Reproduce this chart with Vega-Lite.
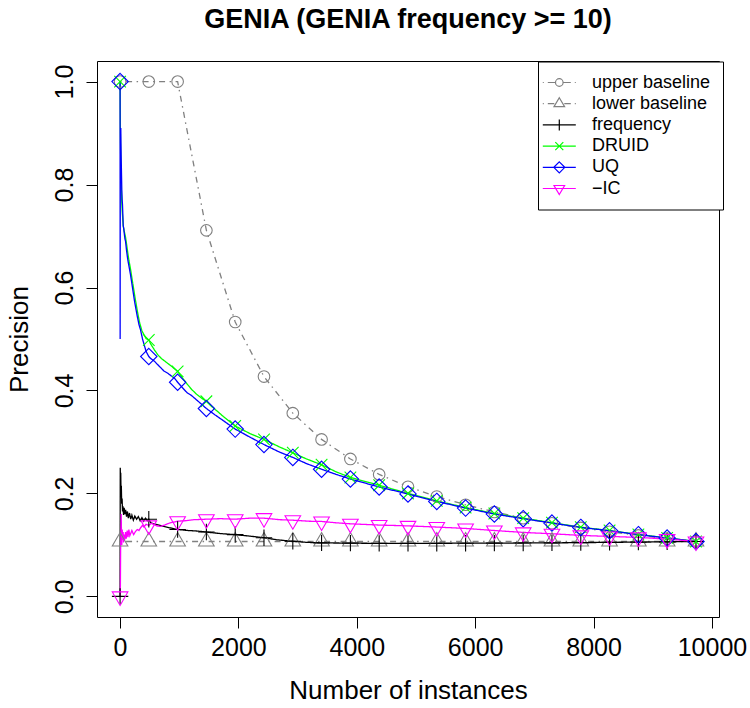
{
  "$schema": "https://vega.github.io/schema/vega-lite/v6.json",
  "width": 622,
  "height": 556,
  "autosize": {"type": "none"},
  "padding": {"left": 97, "top": 61, "right": 31, "bottom": 91},
  "background": "white",
  "title": {"text": "GENIA (GENIA frequency >= 10)", "fontSize": 27, "fontWeight": "bold", "font": "Liberation Sans", "color": "black", "anchor": "middle", "baseline": "alphabetic", "offset": 6},
  "data": {"values": [
    {"s":"upper baseline","n":1,"p":1,"m":1},{"s":"upper baseline","n":486,"p":1,"m":1},{"s":"upper baseline","n":973,"p":1,"m":1},{"s":"upper baseline","n":1459,"p":0.711,"m":1},{"s":"upper baseline","n":1946,"p":0.533,"m":1},{"s":"upper baseline","n":2432,"p":0.427,"m":1},{"s":"upper baseline","n":2919,"p":0.356,"m":1},{"s":"upper baseline","n":3405,"p":0.305,"m":1},{"s":"upper baseline","n":3892,"p":0.267,"m":1},{"s":"upper baseline","n":4378,"p":0.237,"m":1},{"s":"upper baseline","n":4865,"p":0.213,"m":1},{"s":"upper baseline","n":5351,"p":0.194,"m":1},{"s":"upper baseline","n":5838,"p":0.178,"m":1},{"s":"upper baseline","n":6324,"p":0.164,"m":1},{"s":"upper baseline","n":6811,"p":0.152,"m":1},{"s":"upper baseline","n":7297,"p":0.142,"m":1},{"s":"upper baseline","n":7784,"p":0.133,"m":1},{"s":"upper baseline","n":8270,"p":0.1255,"m":1},{"s":"upper baseline","n":8757,"p":0.1185,"m":1},{"s":"upper baseline","n":9243,"p":0.1123,"m":1},{"s":"upper baseline","n":9730,"p":0.1067,"m":1},
    {"s":"lower baseline","n":1,"p":0.1067,"m":1},{"s":"lower baseline","n":486,"p":0.1067,"m":1},{"s":"lower baseline","n":973,"p":0.1067,"m":1},{"s":"lower baseline","n":1459,"p":0.1067,"m":1},{"s":"lower baseline","n":1946,"p":0.1067,"m":1},{"s":"lower baseline","n":2432,"p":0.1067,"m":1},{"s":"lower baseline","n":2919,"p":0.1067,"m":1},{"s":"lower baseline","n":3405,"p":0.1067,"m":1},{"s":"lower baseline","n":3892,"p":0.1067,"m":1},{"s":"lower baseline","n":4378,"p":0.1067,"m":1},{"s":"lower baseline","n":4865,"p":0.1067,"m":1},{"s":"lower baseline","n":5351,"p":0.1067,"m":1},{"s":"lower baseline","n":5838,"p":0.1067,"m":1},{"s":"lower baseline","n":6324,"p":0.1067,"m":1},{"s":"lower baseline","n":6811,"p":0.1067,"m":1},{"s":"lower baseline","n":7297,"p":0.1067,"m":1},{"s":"lower baseline","n":7784,"p":0.1067,"m":1},{"s":"lower baseline","n":8270,"p":0.1067,"m":1},{"s":"lower baseline","n":8757,"p":0.1067,"m":1},{"s":"lower baseline","n":9243,"p":0.1067,"m":1},{"s":"lower baseline","n":9730,"p":0.1067,"m":1},
    {"s":"frequency","n":1,"p":0,"m":1},{"s":"frequency","n":4,"p":0.25,"m":0},{"s":"frequency","n":8,"p":0.22,"m":0},{"s":"frequency","n":12,"p":0.24,"m":0},{"s":"frequency","n":17,"p":0.2,"m":0},{"s":"frequency","n":22,"p":0.215,"m":0},{"s":"frequency","n":28,"p":0.18,"m":0},{"s":"frequency","n":35,"p":0.19,"m":0},{"s":"frequency","n":42,"p":0.165,"m":0},{"s":"frequency","n":50,"p":0.175,"m":0},{"s":"frequency","n":60,"p":0.158,"m":0},{"s":"frequency","n":70,"p":0.172,"m":0},{"s":"frequency","n":82,"p":0.16,"m":0},{"s":"frequency","n":95,"p":0.168,"m":0},{"s":"frequency","n":110,"p":0.155,"m":0},{"s":"frequency","n":125,"p":0.165,"m":0},{"s":"frequency","n":140,"p":0.152,"m":0},{"s":"frequency","n":160,"p":0.162,"m":0},{"s":"frequency","n":180,"p":0.15,"m":0},{"s":"frequency","n":200,"p":0.158,"m":0},{"s":"frequency","n":225,"p":0.148,"m":0},{"s":"frequency","n":250,"p":0.156,"m":0},{"s":"frequency","n":280,"p":0.15,"m":0},{"s":"frequency","n":310,"p":0.155,"m":0},{"s":"frequency","n":340,"p":0.147,"m":0},{"s":"frequency","n":370,"p":0.153,"m":0},{"s":"frequency","n":400,"p":0.146,"m":0},{"s":"frequency","n":430,"p":0.152,"m":0},{"s":"frequency","n":460,"p":0.147,"m":0},{"s":"frequency","n":486,"p":0.15,"m":1},{"s":"frequency","n":520,"p":0.143,"m":0},{"s":"frequency","n":600,"p":0.14,"m":0},{"s":"frequency","n":700,"p":0.137,"m":0},{"s":"frequency","n":850,"p":0.133,"m":0},{"s":"frequency","n":973,"p":0.13,"m":1},{"s":"frequency","n":1150,"p":0.128,"m":0},{"s":"frequency","n":1300,"p":0.127,"m":0},{"s":"frequency","n":1459,"p":0.125,"m":1},{"s":"frequency","n":1700,"p":0.122,"m":0},{"s":"frequency","n":1946,"p":0.12,"m":1},{"s":"frequency","n":2200,"p":0.117,"m":0},{"s":"frequency","n":2432,"p":0.114,"m":1},{"s":"frequency","n":2650,"p":0.11,"m":0},{"s":"frequency","n":2919,"p":0.107,"m":1},{"s":"frequency","n":3150,"p":0.105,"m":0},{"s":"frequency","n":3405,"p":0.104,"m":1},{"s":"frequency","n":3892,"p":0.1035,"m":1},{"s":"frequency","n":4378,"p":0.103,"m":1},{"s":"frequency","n":4865,"p":0.103,"m":1},{"s":"frequency","n":5351,"p":0.1032,"m":1},{"s":"frequency","n":5838,"p":0.1034,"m":1},{"s":"frequency","n":6324,"p":0.1035,"m":1},{"s":"frequency","n":6811,"p":0.1038,"m":1},{"s":"frequency","n":7297,"p":0.104,"m":1},{"s":"frequency","n":7784,"p":0.1045,"m":1},{"s":"frequency","n":8270,"p":0.105,"m":1},{"s":"frequency","n":8757,"p":0.1055,"m":1},{"s":"frequency","n":9243,"p":0.106,"m":1},{"s":"frequency","n":9730,"p":0.1067,"m":1},
    {"s":"DRUID","n":1,"p":1,"m":1},{"s":"DRUID","n":3,"p":0.95,"m":0},{"s":"DRUID","n":6,"p":0.9,"m":0},{"s":"DRUID","n":10,"p":0.86,"m":0},{"s":"DRUID","n":15,"p":0.83,"m":0},{"s":"DRUID","n":20,"p":0.8,"m":0},{"s":"DRUID","n":28,"p":0.77,"m":0},{"s":"DRUID","n":36,"p":0.75,"m":0},{"s":"DRUID","n":45,"p":0.735,"m":0},{"s":"DRUID","n":54,"p":0.72,"m":0},{"s":"DRUID","n":70,"p":0.71,"m":0},{"s":"DRUID","n":93,"p":0.698,"m":0},{"s":"DRUID","n":110,"p":0.685,"m":0},{"s":"DRUID","n":130,"p":0.668,"m":0},{"s":"DRUID","n":150,"p":0.653,"m":0},{"s":"DRUID","n":177,"p":0.636,"m":0},{"s":"DRUID","n":210,"p":0.612,"m":0},{"s":"DRUID","n":250,"p":0.583,"m":0},{"s":"DRUID","n":290,"p":0.556,"m":0},{"s":"DRUID","n":330,"p":0.532,"m":0},{"s":"DRUID","n":370,"p":0.516,"m":0},{"s":"DRUID","n":410,"p":0.507,"m":0},{"s":"DRUID","n":440,"p":0.501,"m":0},{"s":"DRUID","n":486,"p":0.498,"m":1},{"s":"DRUID","n":520,"p":0.49,"m":0},{"s":"DRUID","n":580,"p":0.479,"m":0},{"s":"DRUID","n":640,"p":0.469,"m":0},{"s":"DRUID","n":700,"p":0.462,"m":0},{"s":"DRUID","n":780,"p":0.455,"m":0},{"s":"DRUID","n":870,"p":0.447,"m":0},{"s":"DRUID","n":973,"p":0.437,"m":1},{"s":"DRUID","n":1050,"p":0.425,"m":0},{"s":"DRUID","n":1130,"p":0.413,"m":0},{"s":"DRUID","n":1210,"p":0.402,"m":0},{"s":"DRUID","n":1300,"p":0.392,"m":0},{"s":"DRUID","n":1380,"p":0.385,"m":0},{"s":"DRUID","n":1459,"p":0.379,"m":1},{"s":"DRUID","n":1600,"p":0.364,"m":0},{"s":"DRUID","n":1750,"p":0.349,"m":0},{"s":"DRUID","n":1946,"p":0.331,"m":1},{"s":"DRUID","n":2200,"p":0.316,"m":0},{"s":"DRUID","n":2432,"p":0.305,"m":1},{"s":"DRUID","n":2700,"p":0.29,"m":0},{"s":"DRUID","n":2919,"p":0.279,"m":1},{"s":"DRUID","n":3150,"p":0.267,"m":0},{"s":"DRUID","n":3405,"p":0.2557,"m":1},{"s":"DRUID","n":3650,"p":0.242,"m":0},{"s":"DRUID","n":3892,"p":0.231,"m":1},{"s":"DRUID","n":4378,"p":0.216,"m":1},{"s":"DRUID","n":4865,"p":0.2,"m":1},{"s":"DRUID","n":5351,"p":0.1855,"m":1},{"s":"DRUID","n":5838,"p":0.1726,"m":1},{"s":"DRUID","n":6324,"p":0.161,"m":1},{"s":"DRUID","n":6811,"p":0.152,"m":1},{"s":"DRUID","n":7297,"p":0.1432,"m":1},{"s":"DRUID","n":7784,"p":0.1345,"m":1},{"s":"DRUID","n":8270,"p":0.128,"m":1},{"s":"DRUID","n":8757,"p":0.1203,"m":1},{"s":"DRUID","n":9243,"p":0.1136,"m":1},{"s":"DRUID","n":9730,"p":0.1067,"m":1},
    {"s":"UQ","n":1,"p":1,"m":1},{"s":"UQ","n":2,"p":0.5,"m":0},{"s":"UQ","n":3,"p":0.667,"m":0},{"s":"UQ","n":4,"p":0.75,"m":0},{"s":"UQ","n":5,"p":0.8,"m":0},{"s":"UQ","n":6,"p":0.833,"m":0},{"s":"UQ","n":8,"p":0.875,"m":0},{"s":"UQ","n":10,"p":0.9,"m":0},{"s":"UQ","n":13,"p":0.91,"m":0},{"s":"UQ","n":16,"p":0.88,"m":0},{"s":"UQ","n":20,"p":0.85,"m":0},{"s":"UQ","n":25,"p":0.82,"m":0},{"s":"UQ","n":30,"p":0.79,"m":0},{"s":"UQ","n":36,"p":0.77,"m":0},{"s":"UQ","n":42,"p":0.76,"m":0},{"s":"UQ","n":48,"p":0.74,"m":0},{"s":"UQ","n":54,"p":0.72,"m":0},{"s":"UQ","n":62,"p":0.715,"m":0},{"s":"UQ","n":72,"p":0.705,"m":0},{"s":"UQ","n":82,"p":0.695,"m":0},{"s":"UQ","n":93,"p":0.69,"m":0},{"s":"UQ","n":110,"p":0.672,"m":0},{"s":"UQ","n":130,"p":0.655,"m":0},{"s":"UQ","n":150,"p":0.642,"m":0},{"s":"UQ","n":177,"p":0.625,"m":0},{"s":"UQ","n":210,"p":0.6,"m":0},{"s":"UQ","n":250,"p":0.57,"m":0},{"s":"UQ","n":290,"p":0.545,"m":0},{"s":"UQ","n":320,"p":0.528,"m":0},{"s":"UQ","n":346,"p":0.518,"m":0},{"s":"UQ","n":380,"p":0.5,"m":0},{"s":"UQ","n":410,"p":0.488,"m":0},{"s":"UQ","n":440,"p":0.476,"m":0},{"s":"UQ","n":486,"p":0.466,"m":1},{"s":"UQ","n":520,"p":0.462,"m":0},{"s":"UQ","n":580,"p":0.457,"m":0},{"s":"UQ","n":620,"p":0.452,"m":0},{"s":"UQ","n":690,"p":0.444,"m":0},{"s":"UQ","n":740,"p":0.438,"m":0},{"s":"UQ","n":800,"p":0.434,"m":0},{"s":"UQ","n":870,"p":0.428,"m":0},{"s":"UQ","n":920,"p":0.424,"m":0},{"s":"UQ","n":973,"p":0.416,"m":1},{"s":"UQ","n":1050,"p":0.406,"m":0},{"s":"UQ","n":1130,"p":0.396,"m":0},{"s":"UQ","n":1210,"p":0.39,"m":0},{"s":"UQ","n":1300,"p":0.381,"m":0},{"s":"UQ","n":1380,"p":0.373,"m":0},{"s":"UQ","n":1459,"p":0.365,"m":1},{"s":"UQ","n":1600,"p":0.353,"m":0},{"s":"UQ","n":1750,"p":0.341,"m":0},{"s":"UQ","n":1946,"p":0.325,"m":1},{"s":"UQ","n":2200,"p":0.309,"m":0},{"s":"UQ","n":2432,"p":0.295,"m":1},{"s":"UQ","n":2700,"p":0.28,"m":0},{"s":"UQ","n":2919,"p":0.27,"m":1},{"s":"UQ","n":3150,"p":0.258,"m":0},{"s":"UQ","n":3405,"p":0.247,"m":1},{"s":"UQ","n":3650,"p":0.237,"m":0},{"s":"UQ","n":3892,"p":0.228,"m":1},{"s":"UQ","n":4378,"p":0.2125,"m":1},{"s":"UQ","n":4865,"p":0.199,"m":1},{"s":"UQ","n":5351,"p":0.1845,"m":1},{"s":"UQ","n":5838,"p":0.1716,"m":1},{"s":"UQ","n":6324,"p":0.16,"m":1},{"s":"UQ","n":6811,"p":0.151,"m":1},{"s":"UQ","n":7297,"p":0.1425,"m":1},{"s":"UQ","n":7784,"p":0.134,"m":1},{"s":"UQ","n":8270,"p":0.1276,"m":1},{"s":"UQ","n":8757,"p":0.12,"m":1},{"s":"UQ","n":9243,"p":0.1134,"m":1},{"s":"UQ","n":9730,"p":0.1067,"m":1},
    {"s":"−IC","n":1,"p":0,"m":1},{"s":"−IC","n":5,"p":0,"m":0},{"s":"−IC","n":10,"p":0.09,"m":0},{"s":"−IC","n":15,"p":0.13,"m":0},{"s":"−IC","n":20,"p":0.16,"m":0},{"s":"−IC","n":25,"p":0.12,"m":0},{"s":"−IC","n":30,"p":0.1,"m":0},{"s":"−IC","n":37,"p":0.13,"m":0},{"s":"−IC","n":45,"p":0.11,"m":0},{"s":"−IC","n":52,"p":0.125,"m":0},{"s":"−IC","n":60,"p":0.105,"m":0},{"s":"−IC","n":70,"p":0.12,"m":0},{"s":"−IC","n":80,"p":0.11,"m":0},{"s":"−IC","n":93,"p":0.125,"m":0},{"s":"−IC","n":105,"p":0.112,"m":0},{"s":"−IC","n":121,"p":0.128,"m":0},{"s":"−IC","n":135,"p":0.115,"m":0},{"s":"−IC","n":149,"p":0.13,"m":0},{"s":"−IC","n":165,"p":0.118,"m":0},{"s":"−IC","n":180,"p":0.122,"m":0},{"s":"−IC","n":200,"p":0.128,"m":0},{"s":"−IC","n":230,"p":0.12,"m":0},{"s":"−IC","n":260,"p":0.126,"m":0},{"s":"−IC","n":290,"p":0.13,"m":0},{"s":"−IC","n":320,"p":0.128,"m":0},{"s":"−IC","n":346,"p":0.133,"m":0},{"s":"−IC","n":380,"p":0.138,"m":0},{"s":"−IC","n":402,"p":0.135,"m":0},{"s":"−IC","n":440,"p":0.14,"m":0},{"s":"−IC","n":486,"p":0.138,"m":1},{"s":"−IC","n":530,"p":0.142,"m":0},{"s":"−IC","n":570,"p":0.14,"m":0},{"s":"−IC","n":620,"p":0.137,"m":0},{"s":"−IC","n":683,"p":0.136,"m":0},{"s":"−IC","n":760,"p":0.139,"m":0},{"s":"−IC","n":850,"p":0.143,"m":0},{"s":"−IC","n":973,"p":0.146,"m":1},{"s":"−IC","n":1100,"p":0.147,"m":0},{"s":"−IC","n":1250,"p":0.149,"m":0},{"s":"−IC","n":1459,"p":0.15,"m":1},{"s":"−IC","n":1700,"p":0.151,"m":0},{"s":"−IC","n":1946,"p":0.15,"m":1},{"s":"−IC","n":2200,"p":0.152,"m":0},{"s":"−IC","n":2432,"p":0.152,"m":1},{"s":"−IC","n":2700,"p":0.149,"m":0},{"s":"−IC","n":2919,"p":0.148,"m":1},{"s":"−IC","n":3200,"p":0.146,"m":0},{"s":"−IC","n":3405,"p":0.1456,"m":1},{"s":"−IC","n":3650,"p":0.143,"m":0},{"s":"−IC","n":3892,"p":0.141,"m":1},{"s":"−IC","n":4378,"p":0.1386,"m":1},{"s":"−IC","n":4865,"p":0.137,"m":1},{"s":"−IC","n":5351,"p":0.1347,"m":1},{"s":"−IC","n":5838,"p":0.132,"m":1},{"s":"−IC","n":6324,"p":0.128,"m":1},{"s":"−IC","n":6811,"p":0.1243,"m":1},{"s":"−IC","n":7297,"p":0.1217,"m":1},{"s":"−IC","n":7784,"p":0.1185,"m":1},{"s":"−IC","n":8270,"p":0.1165,"m":1},{"s":"−IC","n":8757,"p":0.1146,"m":1},{"s":"−IC","n":9243,"p":0.1114,"m":1},{"s":"−IC","n":9730,"p":0.1067,"m":1}
  ]},
  "encoding": {
    "x": {"field": "n", "type": "quantitative", "title": "Number of instances",
      "scale": {"domain": [-389, 10119], "nice": false, "zero": false},
      "axis": {"values": [0, 2000, 4000, 6000, 8000, 10000], "format": "d", "labelPadding": 7, "labelOverlap": false, "labelFlush": false, "titleY": 81, "titleBaseline": "alphabetic"}},
    "y": {"field": "p", "type": "quantitative", "title": "Precision",
      "scale": {"domain": [-0.04, 1.04], "nice": false, "zero": false},
      "axis": {"values": [0, 0.2, 0.4, 0.6, 0.8, 1], "format": ".1f", "labelAngle": 270, "labelAlign": "center", "labelBaseline": "alphabetic", "labelPadding": 14, "labelOverlap": false, "labelFlush": false, "titleAngle": 270, "titleX": -69.5, "titleY": 278, "titleAlign": "center", "titleBaseline": "alphabetic"}},
    "color": {"field": "s", "type": "nominal",
      "scale": {"domain": ["upper baseline", "lower baseline", "frequency", "DRUID", "UQ", "−IC"], "range": ["#808080", "#808080", "#000000", "#00ff00", "#0000ff", "#ff00ff"]},
      "legend": {"title": null, "orient": "none", "legendX": 441, "legendY": 0.5}
    }
  },
  "layer": [
    {
      "mark": {"type": "line", "strokeWidth": 1.3, "opacity": 1},
      "encoding": {
        "strokeDash": {"field": "s", "type": "nominal", "legend": null,
          "scale": {"domain": ["frequency", "DRUID", "UQ", "−IC", "upper baseline", "lower baseline"], "range": [[1, 0], [1, 0], [1, 0], [1, 0], [1.5, 4.5, 6, 4.5], [1.5, 4.5, 6, 4.5]]}}
      }
    },
    {
      "transform": [{"filter": "datum.m == 1"}],
      "mark": {"type": "point", "filled": false, "size": 4, "strokeWidth": 1.1, "opacity": 1},
      "encoding": {
        "shape": {
          "condition": [
            {"test": "datum.s === 'upper baseline'", "value": "M5.8,0A5.8,5.8 0 1,1 -5.8,0A5.8,5.8 0 1,1 5.8,0Z"},
            {"test": "datum.s === 'lower baseline'", "value": "M0,-9L7.8,4.5L-7.8,4.5Z"},
            {"test": "datum.s === 'frequency'", "value": "M-8.2,0L8.2,0M0,-8.2L0,8.2"},
            {"test": "datum.s === 'DRUID'", "value": "M-5.8,-5.8L5.8,5.8M-5.8,5.8L5.8,-5.8"},
            {"test": "datum.s === 'UQ'", "value": "M0,-8.2L8.2,0L0,8.2L-8.2,0Z"}
          ],
          "value": "M0,9L7.8,-4.5L-7.8,-4.5Z"
        }
      }
    },
    {
      "transform": [{"filter": "datum.n < 0"}],
      "mark": {"type": "point", "filled": false, "size": 4, "strokeWidth": 1.2, "opacity": 1},
      "encoding": {
        "shape": {"field": "s", "type": "nominal",
          "legend": {"title": null, "orient": "none", "legendX": 441, "legendY": 0.5},
          "scale": {"domain": ["upper baseline", "lower baseline", "frequency", "DRUID", "UQ", "−IC"], "range": [
            "M-16.5,0H-15.5M-11.5,0H-3.8M3.8,0H11.5M15.5,0H16.5M3.8,0A3.8,3.8 0 1,1 -3.8,0A3.8,3.8 0 1,1 3.8,0Z",
            "M-16.5,0H-15.5M-11.5,0H-5M5,0H11.5M15.5,0H16.5M0,-6L5.3,3L-5.3,3Z",
            "M-16.5,0H16.5M0,-5.5V5.5",
            "M-16.5,0H16.5M-4,-4L4,4M-4,4L4,-4",
            "M-16.5,0H16.5M0,-5.5L5.5,0L0,5.5L-5.5,0Z",
            "M-16.5,0H16.5M0,6L5.3,-3L-5.3,-3Z"]}}
      }
    }
  ],
  "config": {
    "font": "Liberation Sans",
    "view": {"stroke": "black", "strokeWidth": 1},
    "axis": {"grid": false, "domain": false, "tickColor": "black", "tickSize": 11, "tickWidth": 1, "labelColor": "black", "titleColor": "black", "labelFontSize": 25, "titleFontSize": 26, "titleFontWeight": "normal", "labelFont": "Liberation Sans", "titleFont": "Liberation Sans"},
    "legend": {"labelFont": "Liberation Sans", "padding": 12, "strokeColor": "black", "fillColor": "white", "labelFontSize": 18, "labelColor": "black", "symbolSize": 4, "symbolOffset": 0.3, "labelOffset": 23.7, "rowPadding": 3.2, "symbolStrokeWidth": 1.2, "symbolOpacity": 1, "symbolFillColor": "transparent"}
  }
}
